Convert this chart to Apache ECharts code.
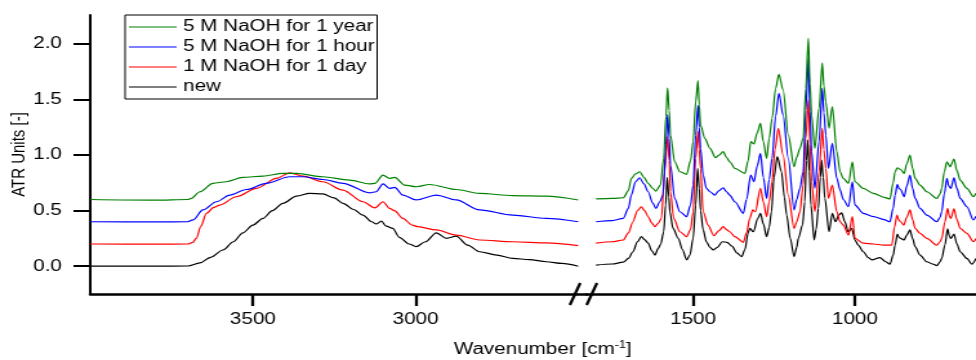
<!DOCTYPE html>
<html>
<head>
<meta charset="utf-8">
<script src="https://cdn.jsdelivr.net/npm/echarts@6.0.0/dist/echarts.min.js"></script>
<style>
  html, body { margin: 0; padding: 0; background: #fff; overflow: hidden; }
  /* the reference figure is stretched horizontally, so draw narrower and stretch */
  #chart { width: 757px; height: 360px; transform: scaleX(1.2893); transform-origin: 0 0; }
</style>
</head>
<body>
<div id="chart"></div>
<script>
(function () {
  'use strict';

  const seriesNames = ['5 M NaOH for 1 year', '5 M NaOH for 1 hour', '1 M NaOH for 1 day', 'new'];
  const seriesColors = ['#008000', '#0000ff', '#ff0000', '#000000'];

  const yTicks = [0, 0.5, 1.0, 1.5, 2.0];
  const xTicksHigh = [3500, 3000];
  const xTicksLow = [1500, 1000];

  // [wavenumber, ATR units], 4000 - 2500 cm-1
  const yearHigh = [[4000,0.6],[3800,0.594],[3700,0.6],[3690,0.61],[3663,0.67],[3623,0.746],[3582,0.76],[3531,0.80],[3469,0.81],[3408,0.835],[3366,0.835],[3285,0.805],[3203,0.775],[3141,0.74],[3125,0.745],[3100,0.82],[3080,0.79],[3064,0.80],[3034,0.73],[2998,0.715],[2957,0.735],[2875,0.69],[2803,0.655],[2701,0.635],[2598,0.63],[2500,0.596]];
  const hourHigh = [[4000,0.4],[3800,0.398],[3700,0.4],[3684,0.416],[3654,0.506],[3612,0.58],[3571,0.64],[3520,0.69],[3459,0.746],[3387,0.805],[3346,0.805],[3285,0.78],[3223,0.746],[3141,0.66],[3121,0.67],[3100,0.74],[3080,0.70],[3064,0.71],[3039,0.64],[2998,0.596],[2936,0.64],[2875,0.596],[2803,0.506],[2701,0.46],[2598,0.43],[2500,0.40]];
  const dayHigh = [[4000,0.2],[3800,0.198],[3700,0.2],[3685,0.215],[3674,0.25],[3660,0.36],[3643,0.476],[3620,0.53],[3602,0.55],[3551,0.625],[3489,0.70],[3428,0.79],[3387,0.84],[3346,0.81],[3285,0.76],[3223,0.685],[3162,0.58],[3125,0.525],[3100,0.58],[3080,0.52],[3065,0.50],[3039,0.43],[3010,0.37],[2993,0.356],[2936,0.326],[2875,0.28],[2803,0.236],[2701,0.22],[2598,0.21],[2500,0.185]];
  const newHigh = [[4000,0],[3800,0.0],[3700,0.002],[3663,0.03],[3630,0.08],[3592,0.146],[3560,0.22],[3531,0.30],[3500,0.37],[3469,0.43],[3440,0.50],[3408,0.566],[3366,0.63],[3326,0.656],[3285,0.65],[3250,0.615],[3223,0.566],[3190,0.51],[3162,0.46],[3135,0.40],[3121,0.38],[3105,0.405],[3090,0.36],[3070,0.34],[3050,0.26],[3020,0.20],[2998,0.176],[2970,0.22],[2936,0.30],[2905,0.25],[2875,0.27],[2840,0.19],[2803,0.13],[2750,0.10],[2701,0.07],[2650,0.06],[2598,0.04],[2550,0.025],[2500,0.0]];

  // 1800 - 626 cm-1
  const yearLow = [[1800,0.605],[1750,0.61],[1716,0.616],[1700,0.68],[1691,0.79],[1678,0.83],[1665,0.85],[1652,0.80],[1639,0.746],[1625,0.70],[1615,0.676],[1601,0.73],[1591,0.97],[1584,1.35],[1579,1.605],[1574,1.40],[1570,1.18],[1557,0.94],[1541,0.85],[1520,0.826],[1508,0.95],[1500,1.12],[1492,1.48],[1485,1.67],[1481,1.45],[1477,1.27],[1464,1.15],[1448,1.06],[1431,0.976],[1420,1.00],[1407,1.03],[1397,0.98],[1387,0.94],[1371,0.88],[1340,0.835],[1330,0.95],[1322,1.12],[1312,1.10],[1302,1.20],[1292,1.285],[1283,1.12],[1273,0.97],[1265,1.15],[1256,1.33],[1245,1.60],[1235,1.725],[1222,1.585],[1206,1.18],[1188,0.895],[1180,0.98],[1170,1.06],[1160,1.15],[1152,1.60],[1144,2.05],[1139,1.65],[1134,1.36],[1124,1.06],[1111,1.42],[1101,1.83],[1096,1.62],[1090,1.48],[1080,1.24],[1070,1.435],[1056,1.03],[1046,0.85],[1036,0.79],[1020,0.746],[1008,0.94],[1000,0.76],[974,0.70],[943,0.656],[910,0.62],[892,0.605],[882,0.75],[876,0.85],[869,0.886],[859,0.87],[848,0.835],[840,0.92],[830,1.0],[822,0.88],[814,0.79],[799,0.73],[778,0.67],[747,0.61],[737,0.65],[732,0.70],[724,0.85],[716,0.94],[706,0.895],[694,0.964],[685,0.86],[675,0.775],[654,0.70],[634,0.625],[626,0.656]];
  const hourLow = [[1800,0.40],[1750,0.41],[1716,0.43],[1700,0.52],[1691,0.64],[1678,0.76],[1665,0.796],[1652,0.74],[1639,0.67],[1625,0.57],[1615,0.52],[1603,0.58],[1593,0.64],[1584,1.09],[1579,1.365],[1574,1.15],[1570,0.91],[1557,0.61],[1541,0.49],[1520,0.446],[1508,0.55],[1500,0.73],[1492,1.18],[1485,1.45],[1481,1.25],[1477,1.06],[1469,0.82],[1459,0.70],[1448,0.67],[1433,0.64],[1420,0.68],[1407,0.706],[1397,0.67],[1387,0.64],[1371,0.58],[1345,0.476],[1335,0.60],[1322,0.82],[1312,0.76],[1302,0.90],[1292,1.015],[1283,0.80],[1273,0.61],[1265,0.78],[1256,0.97],[1245,1.35],[1235,1.555],[1222,1.36],[1206,0.97],[1188,0.506],[1180,0.60],[1170,0.70],[1160,0.85],[1152,1.40],[1144,1.87],[1139,1.40],[1134,1.03],[1124,0.70],[1111,1.12],[1101,1.60],[1096,1.38],[1090,1.18],[1082,0.88],[1070,1.105],[1056,0.79],[1046,0.686],[1036,0.60],[1020,0.535],[1008,0.76],[1000,0.55],[974,0.476],[943,0.446],[910,0.42],[892,0.40],[882,0.52],[876,0.64],[869,0.737],[864,0.70],[859,0.69],[848,0.625],[840,0.72],[830,0.82],[822,0.70],[814,0.61],[799,0.52],[778,0.46],[747,0.40],[737,0.44],[732,0.49],[724,0.65],[716,0.79],[710,0.72],[704,0.70],[694,0.796],[685,0.70],[675,0.61],[654,0.535],[634,0.416],[626,0.45]];
  const dayLow = [[1800,0.207],[1750,0.22],[1716,0.236],[1700,0.30],[1686,0.40],[1672,0.50],[1660,0.535],[1650,0.50],[1639,0.446],[1628,0.39],[1618,0.356],[1608,0.386],[1598,0.43],[1588,0.85],[1579,1.165],[1574,0.95],[1570,0.67],[1560,0.43],[1541,0.31],[1520,0.266],[1508,0.33],[1500,0.49],[1492,0.97],[1485,1.215],[1481,1.05],[1477,0.88],[1469,0.49],[1454,0.37],[1436,0.275],[1420,0.32],[1407,0.356],[1397,0.33],[1387,0.31],[1371,0.266],[1345,0.215],[1335,0.30],[1325,0.43],[1316,0.506],[1308,0.49],[1292,0.70],[1283,0.58],[1273,0.446],[1265,0.58],[1256,0.76],[1247,1.05],[1237,1.24],[1222,1.0],[1206,0.64],[1188,0.34],[1180,0.40],[1170,0.49],[1160,0.73],[1152,1.15],[1144,1.495],[1139,1.10],[1134,0.76],[1124,0.49],[1111,0.85],[1101,1.24],[1096,1.05],[1090,0.88],[1082,0.61],[1070,0.73],[1056,0.49],[1046,0.40],[1036,0.37],[1020,0.28],[1008,0.446],[1000,0.25],[974,0.207],[943,0.20],[912,0.19],[886,0.19],[878,0.35],[870,0.46],[865,0.42],[859,0.40],[849,0.37],[840,0.44],[830,0.506],[822,0.42],[814,0.34],[799,0.296],[778,0.25],[747,0.19],[737,0.22],[732,0.25],[722,0.40],[714,0.52],[708,0.45],[704,0.43],[694,0.515],[685,0.42],[675,0.34],[654,0.296],[634,0.22],[626,0.25]];
  const newLow = [[1800,0.01],[1750,0.02],[1716,0.036],[1700,0.07],[1686,0.13],[1672,0.22],[1660,0.266],[1650,0.24],[1639,0.207],[1628,0.14],[1618,0.10],[1608,0.16],[1600,0.20],[1591,0.31],[1585,0.55],[1580,0.80],[1575,0.62],[1572,0.49],[1562,0.34],[1546,0.25],[1533,0.15],[1520,0.057],[1510,0.10],[1500,0.25],[1492,0.55],[1486,0.88],[1481,0.70],[1477,0.50],[1469,0.326],[1459,0.22],[1448,0.17],[1438,0.146],[1425,0.17],[1410,0.22],[1395,0.215],[1380,0.18],[1365,0.12],[1350,0.086],[1340,0.15],[1330,0.30],[1325,0.34],[1314,0.31],[1300,0.43],[1292,0.476],[1283,0.38],[1273,0.266],[1265,0.35],[1258,0.49],[1250,0.80],[1240,0.985],[1227,0.85],[1218,0.62],[1211,0.46],[1200,0.25],[1188,0.086],[1180,0.17],[1175,0.25],[1162,0.37],[1155,0.58],[1150,0.95],[1146,1.135],[1141,0.85],[1136,0.55],[1126,0.236],[1120,0.33],[1113,0.52],[1107,0.80],[1103,0.955],[1098,0.80],[1093,0.61],[1080,0.31],[1070,0.476],[1060,0.40],[1050,0.46],[1041,0.48],[1031,0.40],[1021,0.31],[1010,0.34],[1000,0.236],[990,0.19],[974,0.13],[960,0.08],[948,0.057],[923,0.077],[905,0.04],[892,0.018],[882,0.10],[876,0.19],[869,0.29],[864,0.26],[859,0.25],[848,0.236],[840,0.28],[830,0.326],[822,0.25],[814,0.176],[799,0.10],[778,0.04],[760,0.02],[747,0.005],[737,0.04],[732,0.07],[722,0.19],[714,0.335],[708,0.27],[704,0.25],[694,0.29],[685,0.20],[675,0.13],[654,0.07],[639,0.018],[626,0.07]];

  const highData = [yearHigh, hourHigh, dayHigh, newHigh];
  const lowData = [yearLow, hourLow, dayLow, newLow];

  const font = "'Liberation Sans', Arial, sans-serif";
  const chart = echarts.init(document.getElementById('chart'));

  const axisLineStyle = { color: '#000', width: 2.5 };

  function xAxis(gridIndex, min, max, ticks) {
    return {
      type: 'value', gridIndex: gridIndex, min: min, max: max, inverse: true,
      axisLine: { onZero: false, lineStyle: axisLineStyle },
      axisTick: { customValues: ticks, length: 12, lineStyle: { color: '#000', width: 2.3 } },
      axisLabel: { customValues: ticks, margin: 18, fontSize: 16, color: '#000', fontFamily: font,
        formatter: v => String(v) },
      splitLine: { show: false }
    };
  }

  function lineSeries(i, axisIndex, data) {
    return {
      name: seriesNames[i], type: 'line', xAxisIndex: axisIndex, yAxisIndex: axisIndex,
      data: data, symbol: 'none', smooth: 0.3, smoothMonotone: 'x',
      lineStyle: { color: seriesColors[i], width: 1.2 }, itemStyle: { color: seriesColors[i] },
      z: 10 - i
    };
  }

  const series = [];
  seriesNames.forEach((n, i) => series.push(lineSeries(i, 0, highData[i])));
  seriesNames.forEach((n, i) => series.push(lineSeries(i, 1, lowData[i])));

  chart.setOption({
    animation: false,
    textStyle: { fontFamily: font },
    grid: [
      { left: 70, top: 15, width: 385, height: 279, outerBoundsMode: 'none', containLabel: false },
      { left: 455, top: 15, width: 302, height: 279, outerBoundsMode: 'none', containLabel: false }
    ],
    legend: {
      data: seriesNames, orient: 'vertical', left: 97, top: 15,
      icon: 'path://M0,0L40,0L40,1L0,1Z',
      itemWidth: 37, itemHeight: 1.2, itemGap: 4, padding: [4, 2, 4, 3],
      borderColor: '#000', borderWidth: 1,
      textStyle: { fontSize: 16, color: '#000', fontFamily: font }
    },
    xAxis: [xAxis(0, 2474, 4000, xTicksHigh), xAxis(1, 626, 1829, xTicksLow)],
    yAxis: [
      {
        type: 'value', gridIndex: 0, min: -0.25, max: 2.26,
        name: 'ATR Units [-]', nameLocation: 'middle', nameGap: 48, nameMoveOverlap: false,
        nameTextStyle: { fontSize: 15, color: '#000', fontFamily: font },
        axisLine: { show: true, onZero: false, lineStyle: { color: '#000', width: 2 } },
        axisTick: { customValues: yTicks, length: 13, lineStyle: { color: '#000', width: 2 } },
        axisLabel: { customValues: yTicks, margin: 22, fontSize: 16, color: '#000', fontFamily: font,
          formatter: v => v.toFixed(1) },
        splitLine: { show: false }
      },
      { type: 'value', gridIndex: 1, min: -0.25, max: 2.26, show: false }
    ],
    graphic: [
      { type: 'line', shape: { x1: 442, y1: 305, x2: 450, y2: 283 }, style: { stroke: '#000', lineWidth: 2.2 }, z: 100 },
      { type: 'line', shape: { x1: 455, y1: 305, x2: 463, y2: 283 }, style: { stroke: '#000', lineWidth: 2.2 }, z: 100 },
      {
        type: 'text', x: 421, y: 350, z: 100,
        style: {
          text: '{a|Wavenumber [cm}{s|-1}{a|]}', align: 'center', verticalAlign: 'middle',
          rich: {
            a: { fontSize: 16, fill: '#000', fontFamily: font },
            s: { fontSize: 10, fill: '#000', fontFamily: font, padding: [0, 0, 10, 0] }
          }
        }
      }
    ],
    series: series
  });
})();
</script>
</body>
</html>
